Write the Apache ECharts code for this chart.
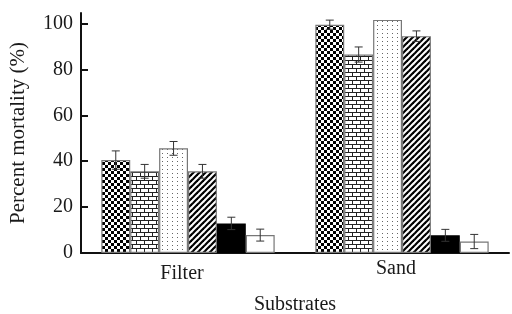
<!DOCTYPE html>
<html>
<head>
<meta charset="utf-8">
<script src="https://cdn.jsdelivr.net/npm/echarts@6/dist/echarts.min.js"></script>
<style>
  html, body { margin: 0; padding: 0; background: #fff; }
  #chart { width: 512px; height: 314px; }
</style>
</head>
<body>
<div id="chart"></div>
<script>
// data
var categories = ['Filter', 'Sand']
var mean1 = [40.5, 99.5],  err1 = [4.0, 2.0]    // checkerboard
var mean2 = [35.6, 86.5],  err2 = [3.0, 3.3]    // brick
var mean3 = [45.6, 101.6], err3 = [3.0, 0]      // dots
var mean4 = [35.6, 94.5],  err4 = [3.0, 2.3]    // hatch
var mean5 = [12.9, 7.7],   err5 = [2.7, 2.6]    // black
var mean6 = [7.8, 5.0],    err6 = [2.6, 3.1]    // white
var yTicks = [0, 20, 40, 60, 80, 100]

var means = [mean1, mean2, mean3, mean4, mean5, mean6]
var errs = [err1, err2, err3, err4, err5, err6]

var GAP = 0.19   // barCategoryGap
var FONT = '"Liberation Serif", "Times New Roman", serif'

function makeCanvas(w, h, draw) {
  var c = document.createElement('canvas')
  c.width = w
  c.height = h
  var ctx = c.getContext('2d')
  ctx.fillStyle = '#fff'
  ctx.fillRect(0, 0, w, h)
  draw(ctx)
  return c
}

// fill patterns
var checker = makeCanvas(6, 6, function (ctx) {
  ctx.fillStyle = '#000'
  ctx.fillRect(0, 0, 3, 3)
  ctx.fillRect(3, 3, 3, 3)
})
var brick = makeCanvas(8, 8, function (ctx) {
  ctx.fillStyle = '#222'
  ctx.fillRect(0, 0, 8, 1)
  ctx.fillRect(0, 4, 8, 1)
  ctx.fillRect(0, 0, 1, 4)
  ctx.fillRect(4, 4, 1, 4)
})
var dots = makeCanvas(5, 4, function (ctx) {
  ctx.fillStyle = '#666'
  ctx.fillRect(2, 1, 1, 1)
})
var hatch = makeCanvas(6, 6, function (ctx) {
  ctx.strokeStyle = '#000'
  ctx.lineWidth = 2.2
  for (var k = -1; k <= 1; k++) {
    ctx.beginPath()
    ctx.moveTo(k * 6 - 1, 7)
    ctx.lineTo(k * 6 + 7, -1)
    ctx.stroke()
  }
})

var fills = [
  { image: checker, repeat: 'repeat' },
  { image: brick, repeat: 'repeat' },
  { image: dots, repeat: 'repeat' },
  { image: hatch, repeat: 'repeat' },
  '#000',
  '#fff'
]

var series = []
means.forEach(function (m, i) {
  series.push({
    name: 'S' + (i + 1),
    type: 'bar',
    data: m,
    barGap: 0,
    barCategoryGap: (GAP * 100) + '%',
    clip: false,
    itemStyle: {
      color: fills[i],
      borderColor: i === 4 ? '#000' : '#777',
      borderWidth: 1.2
    }
  })
})

// error bars, one custom series per bar series
means.forEach(function (m, i) {
  var data = m.map(function (v, c) {
    return [c, v - errs[i][c], v + errs[i][c], errs[i][c]]
  })
  series.push({
    type: 'custom',
    z: 5,
    clip: false,
    data: data,
    encode: { x: 0, y: [1, 2] },
    renderItem: function (params, api) {
      if (api.value(3) <= 0) return
      var lo = api.coord([api.value(0), api.value(1)])
      var hi = api.coord([api.value(0), api.value(2)])
      var band = api.size([1, 0])[0]
      var groupW = band * (1 - GAP)
      var bw = groupW / 6
      var x = lo[0] - groupW / 2 + bw * (i + 0.5)
      var cap = 4
      var st = { stroke: '#333', lineWidth: 1 }
      return {
        type: 'group',
        children: [
          { type: 'line', shape: { x1: x, y1: lo[1], x2: x, y2: hi[1] }, style: st },
          { type: 'line', shape: { x1: x - cap, y1: lo[1], x2: x + cap, y2: lo[1] }, style: st },
          { type: 'line', shape: { x1: x - cap, y1: hi[1], x2: x + cap, y2: hi[1] }, style: st }
        ]
      }
    }
  })
})

var chart = echarts.init(document.getElementById('chart'))
chart.setOption({
  backgroundColor: '#fff',
  animation: false,
  grid: { left: 81, right: 3, top: 13, bottom: 61, outerBoundsMode: 'none', containLabel: false },
  xAxis: {
    type: 'category',
    data: categories,
    name: 'Substrates',
    nameLocation: 'middle',
    nameGap: 42,
    nameTextStyle: { fontFamily: FONT, fontSize: 20, color: '#1a1a1a' },
    axisLine: { lineStyle: { color: '#111', width: 2 } },
    axisTick: { inside: true, length: 7, lineStyle: { color: '#111', width: 2 } },
    axisLabel: {
      margin: 6,
      fontFamily: FONT,
      fontSize: 20,
      color: '#1a1a1a',
      formatter: function (v) {
        return v === 'Filter' ? '{f|' + v + '}' : '{s|' + v + '}'
      },
      rich: {
        f: { fontFamily: FONT, fontSize: 20, color: '#1a1a1a', padding: [5, 12, 0, 0] },
        s: { fontFamily: FONT, fontSize: 20, color: '#1a1a1a', padding: [0, 12, 0, 0] }
      }
    },
    splitLine: { show: false }
  },
  yAxis: {
    type: 'value',
    min: 0,
    max: 104.6,
    interval: 20,
    name: 'Percent mortality (%)',
    nameLocation: 'middle',
    nameGap: 52,
    nameTextStyle: { fontFamily: FONT, fontSize: 21, color: '#1a1a1a' },
    axisLine: { show: true, lineStyle: { color: '#111', width: 2 } },
    axisTick: { show: true, inside: true, length: 7, customValues: yTicks, lineStyle: { color: '#111', width: 2 } },
    axisLabel: { customValues: yTicks, margin: 8, fontFamily: FONT, fontSize: 20, color: '#1a1a1a' },
    splitLine: { show: false }
  },
  series: series
})
</script>
</body>
</html>
